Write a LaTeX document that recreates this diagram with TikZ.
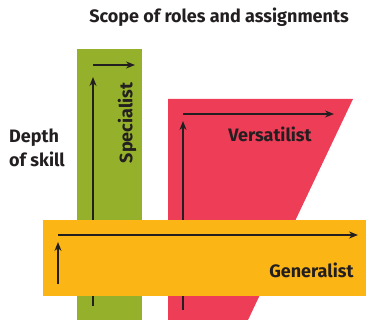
\documentclass[tikz,border=0pt]{standalone}
\usepackage{fontspec}
\setmainfont{Fira Sans}
\usetikzlibrary{arrows.meta}
\definecolor{skillgreen}{HTML}{95B12B}
\definecolor{skillred}{HTML}{EE3D57}
\definecolor{skillorange}{HTML}{FBB615}
\definecolor{ink}{HTML}{231F20}
\begin{document}
\begin{tikzpicture}[x=1pt, y=-1pt,
            every node/.style = {text = ink, font = \bfseries\fontsize{18}{24}\selectfont},
            band/.style = {draw = none, inner sep = 0pt, outer sep = 0pt},
            axis/.style = {draw = ink, line width = 1.4pt, -{Stealth[length = 9pt, width = 7pt]}}]
            \useasboundingbox (0,0) rectangle (366,320);
            \node (title) at (219,17) {Scope of roles and assignments};
            \node[align = left, anchor = west, inner sep = 0pt] (depth) at (9,148) {Depth\\of skill};
            % specialist band
            \node[band, fill = skillgreen, minimum width = 65pt, minimum height = 271pt,
                anchor = north west] (spec) at (77,49) {};
            \node[rotate = 90] (speclabel) at (127,123) {Specialist};
            \coordinate (s0) at (93,306);
            \coordinate (s1) at (93,77);
            \coordinate (s2) at (93,65);
            \coordinate (s3) at (135,65);
            \draw[axis] (s0) -- (s1);
            \draw[axis] (s2) -- (s3);
            % versatilist band
            \fill[skillred] (168,99) coordinate (v0) -- (353,99) coordinate (v1)
                -- (248,320) coordinate (v2) -- (168,320) coordinate (v3) -- cycle;
            \node (verslabel) at (270,134) {Versatilist};
            \coordinate (r0) at (183,310);
            \coordinate (r1) at (183,121);
            \coordinate (r2) at (183,114);
            \coordinate (r3) at (334,114);
            \draw[axis] (r0) -- (r1);
            \draw[axis] (r2) -- (r3);
            % generalist band
            \node[band, fill = skillorange, minimum width = 323pt, minimum height = 76pt,
                anchor = north west] (gen) at (43,220) {};
            \node[anchor = east] (genlabel) at (357,270) {Generalist};
            \coordinate (g0) at (58,284);
            \coordinate (g1) at (58,242);
            \coordinate (g2) at (58,235);
            \coordinate (g3) at (358,235);
            \draw[axis] (g0) -- (g1);
            \draw[axis] (g2) -- (g3);
        \end{tikzpicture}
\end{document}
